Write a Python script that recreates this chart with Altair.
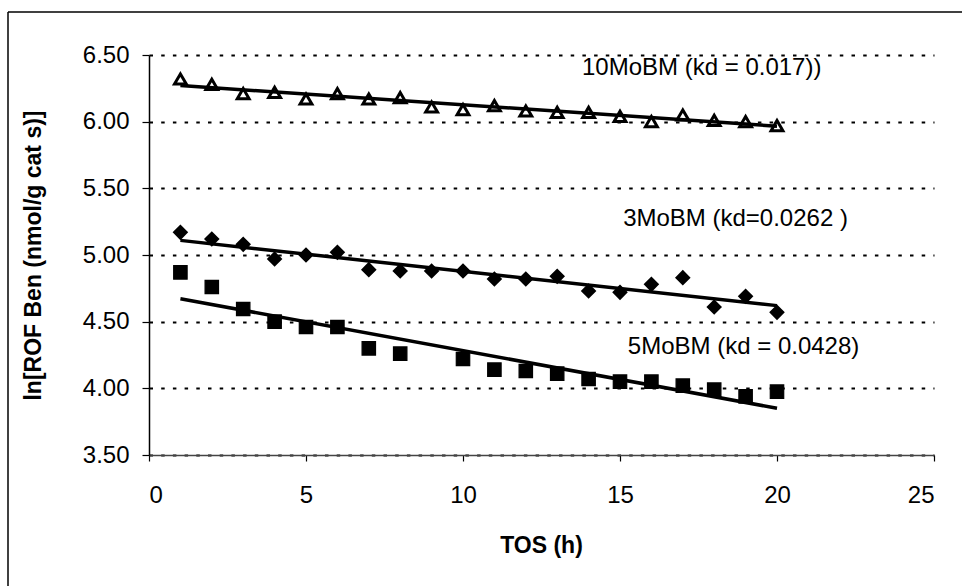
import altair as alt
import pandas as pd

# ---- data ----
tos = list(range(1, 21))
mo10 = [6.32, 6.28, 6.21, 6.22, 6.17, 6.21, 6.17, 6.18, 6.11, 6.09,
        6.12, 6.08, 6.07, 6.07, 6.04, 6.00, 6.05, 6.01, 6.00, 5.97]
mo3 = [5.17, 5.12, 5.08, 4.97, 5.00, 5.02, 4.89, 4.88, 4.88, 4.88,
       4.82, 4.82, 4.84, 4.73, 4.72, 4.78, 4.83, 4.61, 4.69, 4.57]
tos5 = [1, 2, 3, 4, 5, 6, 7, 8, 10, 11, 12, 13, 14, 15, 16, 17, 18, 19, 20]
mo5 = [4.87, 4.76, 4.595, 4.50, 4.46, 4.46, 4.30, 4.26, 4.22, 4.14,
       4.13, 4.11, 4.07, 4.05, 4.05, 4.02, 3.99, 3.94, 3.975]

series_names = ["10MoBM", "3MoBM", "5MoBM"]
label_text = ["10MoBM (kd = 0.017))", "3MoBM (kd=0.0262 )", "5MoBM (kd = 0.0428)"]
label_x = [13.79, 15.1, 15.25]
label_y = [6.40, 5.27, 4.31]

y_ticks = [3.5, 4.0, 4.5, 5.0, 5.5, 6.0, 6.5]
x_ticks = [0, 5, 10, 15, 20, 25]

rows = []
for x, y in zip(tos, mo10):
    rows.append({"series": "10MoBM", "x": x, "y": y})
for x, y in zip(tos, mo3):
    rows.append({"series": "3MoBM", "x": x, "y": y})
for x, y in zip(tos5, mo5):
    rows.append({"series": "5MoBM", "x": x, "y": y})
df = pd.DataFrame(rows)
labels = pd.DataFrame({"t": label_text, "x": label_x, "y": label_y})

FONT = "Liberation Sans"
W, H = 785, 400

xscale = alt.Scale(domain=[0, 25], nice=False)
yscale = alt.Scale(domain=[3.5, 6.5], nice=False, zero=False)

xenc = alt.X("x:Q", scale=xscale, axis=alt.Axis(
    values=x_ticks, title="TOS (h)", grid=False, tickSize=6, labelPadding=22,
    labelFontSize=24, labelFont=FONT, labelColor="black",
    domainColor="#444", domainWidth=1.5, tickColor="black", tickWidth=1.2,
    titleFont=FONT, titleFontSize=23, titleFontWeight="bold", titleColor="black",
    titleX=392, titleY=90, titleAlign="center", titleBaseline="middle"))
yenc = alt.Y("y:Q", scale=yscale, axis=alt.Axis(
    values=y_ticks, format=".2f", title="ln[ROF Ben (nmol/g cat s)]",
    grid=True, gridColor="black", gridDash=[3.5, 8.2], gridWidth=2,
    tickSize=7, labelPadding=13, labelFontSize=24, labelFont=FONT, labelColor="black",
    domainColor="black", domainWidth=1.5, tickColor="black", tickWidth=1.2,
    titleFont=FONT, titleFontSize=23, titleFontWeight="bold", titleColor="black",
    titleX=-116, titleY=200, titleAngle=270, titleAlign="center", titleBaseline="middle"))

base = alt.Chart(df)

points = base.mark_point(filled=False, opacity=1, stroke="black").encode(
    x=xenc, y=yenc,
    shape=alt.Shape("series:N", scale=alt.Scale(domain=series_names,
                    range=["triangle-up", "diamond", "square"]), legend=None),
    fill=alt.Fill("series:N", scale=alt.Scale(domain=series_names,
                  range=["white", "black", "black"]), legend=None),
    size=alt.Size("series:N", scale=alt.Scale(domain=series_names,
                  range=[140, 180, 135]), legend=None),
    strokeWidth=alt.StrokeWidth("series:N", scale=alt.Scale(domain=series_names,
                                range=[3, 1.2, 1]), legend=None),
)

lines = base.transform_regression("x", "y", groupby=["series"]).mark_line(
    color="black", strokeWidth=3.5).encode(
    x=alt.X("x:Q", scale=xscale), y=alt.Y("y:Q", scale=yscale), detail="series:N")

text = alt.Chart(labels).mark_text(align="left", baseline="middle", font=FONT,
                                   fontSize=24, color="black").encode(
    x=alt.X("x:Q", scale=xscale), y=alt.Y("y:Q", scale=yscale), text="t:N")

frame = alt.Chart(alt.Data(values=[{"a": 1}]))
frame_left = frame.mark_rule(color="black", strokeWidth=1.5).encode(
    x=alt.value(-141), y=alt.value(-43), y2=alt.value(532))
frame_top = frame.mark_rule(color="black", strokeWidth=1.5).encode(
    x=alt.value(-141), x2=alt.value(813), y=alt.value(-43))

chart = alt.layer(points, lines, text, frame_left, frame_top).properties(
    width=W, height=H,
    autosize=alt.AutoSizeParams(type="none"),
    padding={"left": 149, "top": 55, "right": 28, "bottom": 131},
    background="white",
).configure_view(stroke=None)

chart.save("out.html", embed_options={"renderer": "svg", "actions": False})
